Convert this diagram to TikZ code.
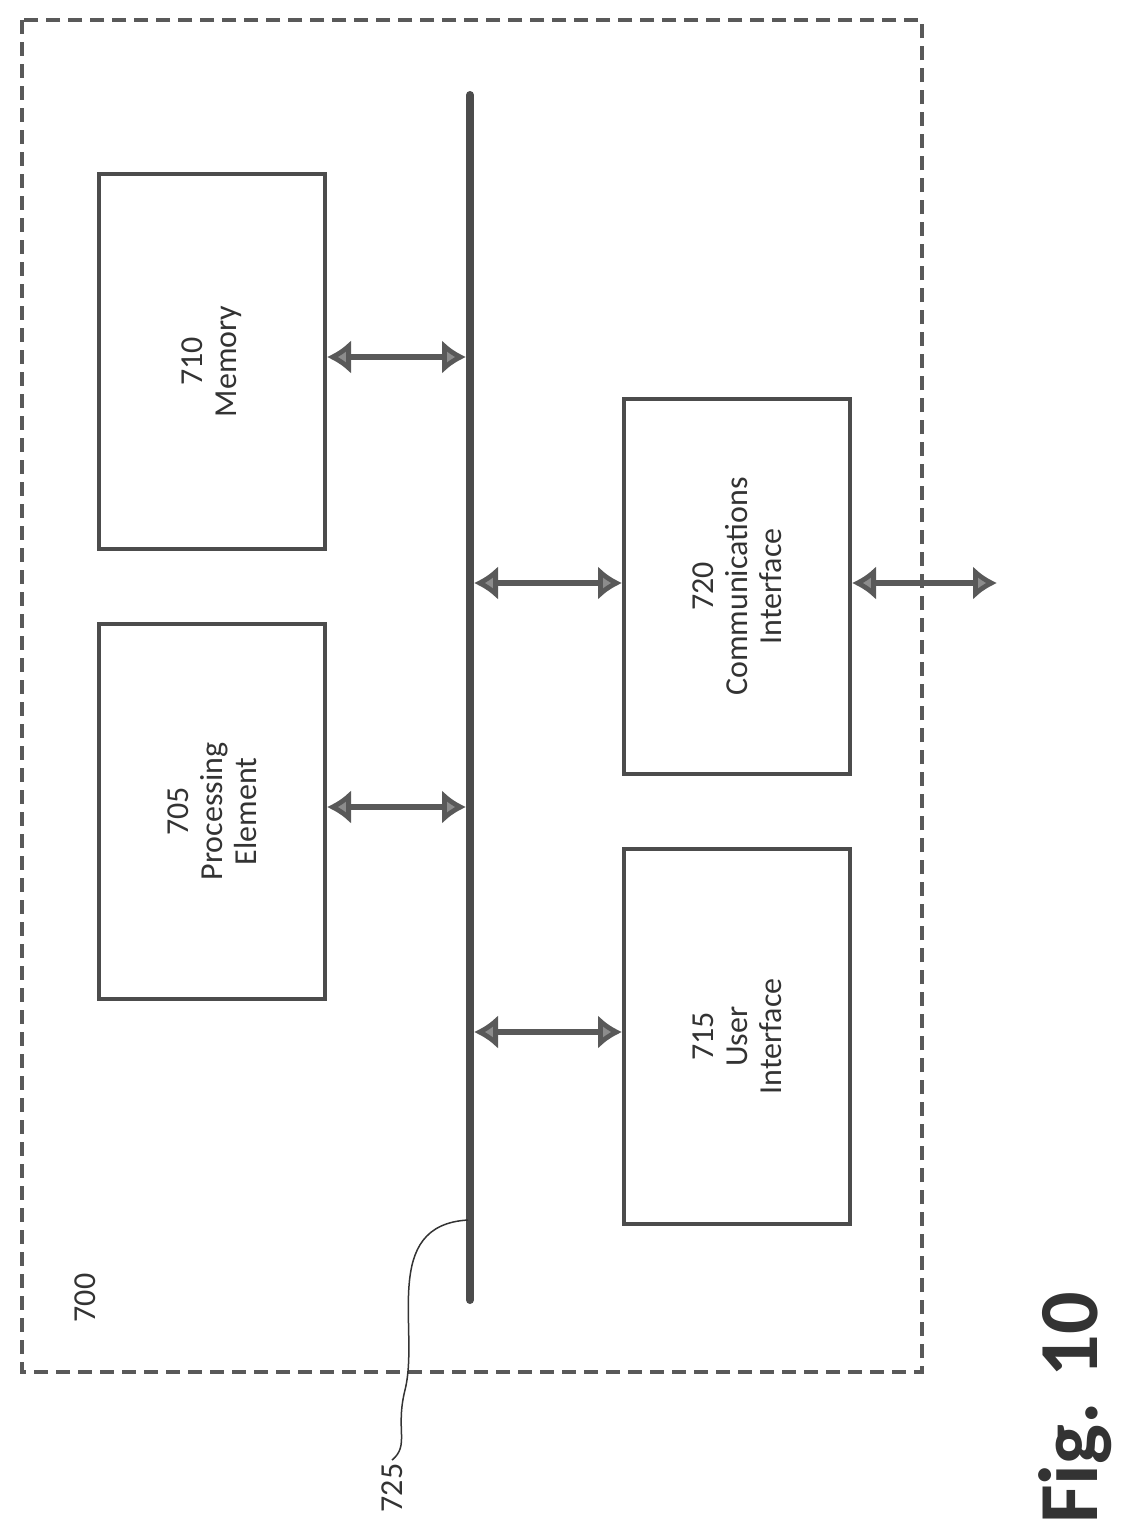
\documentclass[tikz,border=0pt]{standalone}
\usepackage{fontspec}
\setmainfont{Carlito}
\usetikzlibrary{arrows.meta}
\begin{document}
\begin{tikzpicture}[x=1pt,y=-1pt,
  box/.style={draw=black!70,line width=4pt,minimum width=226pt,minimum height=375pt,anchor=north west,inner sep=0pt},
  lbl/.style={rotate=90,font=\fontsize{32}{34}\selectfont,align=center,text=black!80},
  arr/.style={draw=black!65,line width=6pt,{Latex[length=24pt,width=34pt,fill=black!45]}-{Latex[length=24pt,width=34pt,fill=black!45]}}]
\useasboundingbox (0,0) rectangle (1127,1535);
\draw[black!65,line width=3.5pt,dash pattern=on 14pt off 8pt] (22,20) rectangle (922,1372);
\node[box] (mem) at (97,172) {};
\node[box] (proc) at (97,622) {};
\node[box] (comm) at (622,397) {};
\node[box] (ui) at (622,847) {};
\node[lbl] at (mem.center) {710\\Memory};
\node[lbl] at (proc.center) {705\\Processing\\Element};
\node[lbl] at (comm.center) {720\\Communications\\Interface};
\node[lbl] at (ui.center) {715\\User\\Interface};
\coordinate (bt) at (470,95); \coordinate (bb) at (470,1300);
\draw[black!70,line width=8pt,line cap=round] (bt) -- (bb);
\coordinate (b1) at (466,357); \coordinate (b2) at (466,807);
\coordinate (b3) at (474,583); \coordinate (b4) at (474,1032);
\coordinate (ext) at (997,583);
\draw[arr] (mem.east |- b1) -- (b1);
\draw[arr] (proc.east |- b2) -- (b2);
\draw[arr] (b3) -- (comm.west |- b3);
\draw[arr] (b4) -- (ui.west |- b4);
\draw[arr] (comm.east |- ext) -- (ext);
\node[lbl] (n700) at (85,1298) {700};
\node[lbl] (n725) at (392,1488) {725};
\coordinate (lead) at (468,1220);
\draw[black!80,line width=1.5pt] (lead) .. controls (380,1225) and (420,1330) .. (405,1390) .. controls (395,1430) and (410,1445) .. (n725.east);
\node[rotate=90,font=\bfseries\fontsize{84}{90}\selectfont,text=black!80] (fig) at (1075,1408) {Fig. 10};
\end{tikzpicture}
\end{document}
